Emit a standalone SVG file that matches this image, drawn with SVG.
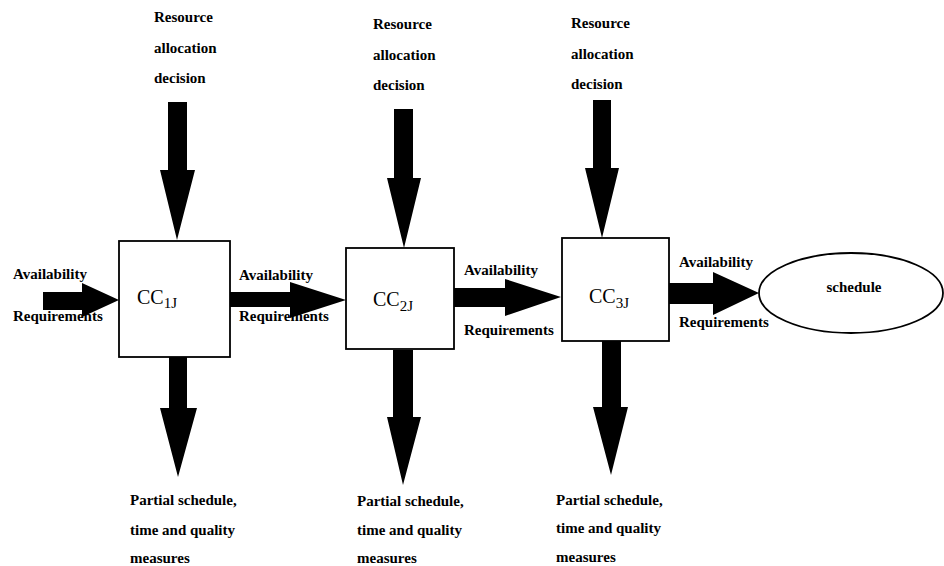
<svg xmlns="http://www.w3.org/2000/svg" width="944" height="566" viewBox="0 0 944 566">
<style>
.lbl{font-family:"Liberation Serif","Times New Roman",serif;font-weight:bold;font-size:15px;fill:#000}
.cc{font-family:"Liberation Serif","Times New Roman",serif;font-size:20px;fill:#000}
.sub{font-size:15px}
.box{fill:#fff;stroke:#000;stroke-width:1.8}
.arr{fill:#000}
</style>
<rect width="944" height="566" fill="#fff"/>
<g id="connectors">
  <!-- top arrows -->
  <polygon class="arr" points="168,102 187,102 187,170 195,170 177,240 160,170 168,170"/>
  <polygon class="arr" points="394,109 413,109 413,178 421,178 404,248 387,178 394,178"/>
  <polygon class="arr" points="593,100 611,100 611,168 619,168 602,238 585,168 593,168"/>
  <!-- bottom arrows -->
  <polygon class="arr" points="169,357 187,357 187,408 197,408 178,477 160,408 169,408"/>
  <polygon class="arr" points="393,350 413,350 413,417 421,417 403,485 387,417 393,417"/>
  <polygon class="arr" points="602,341 621,341 621,407 628,407 611,475 593,407 602,407"/>
  <!-- horizontal arrows -->
  <polygon class="arr" points="43,292 82,292 82,283 119,300 82,317 82,310 43,310"/>
  <polygon class="arr" points="230,292 290,292 290,282 346,300 290,318 290,307 230,307"/>
  <polygon class="arr" points="454,288 505,288 505,279 561,297 505,316 505,307 454,307"/>
  <polygon class="arr" points="669,283 713,283 713,272 759,293 713,315 713,304 669,304"/>
  <!-- labels -->
  <text class="lbl" x="154" y="22">Resource</text>
  <text class="lbl" x="154" y="53">allocation</text>
  <text class="lbl" x="154" y="83">decision</text>
  <text class="lbl" x="373" y="29">Resource</text>
  <text class="lbl" x="373" y="60">allocation</text>
  <text class="lbl" x="373" y="90">decision</text>
  <text class="lbl" x="571" y="28">Resource</text>
  <text class="lbl" x="571" y="59">allocation</text>
  <text class="lbl" x="571" y="89">decision</text>
  <text class="lbl" x="13" y="279">Availability</text>
  <text class="lbl" x="13" y="321">Requirements</text>
  <text class="lbl" x="239" y="280">Availability</text>
  <text class="lbl" x="239" y="321">Requirements</text>
  <text class="lbl" x="464" y="275">Availability</text>
  <text class="lbl" x="464" y="335">Requirements</text>
  <text class="lbl" x="679" y="267">Availability</text>
  <text class="lbl" x="679" y="327">Requirements</text>
  <text class="lbl" x="130" y="505">Partial schedule,</text>
  <text class="lbl" x="130" y="535">time and quality</text>
  <text class="lbl" x="130" y="563">measures</text>
  <text class="lbl" x="357" y="506">Partial schedule,</text>
  <text class="lbl" x="357" y="535">time and quality</text>
  <text class="lbl" x="357" y="563">measures</text>
  <text class="lbl" x="556" y="505">Partial schedule,</text>
  <text class="lbl" x="556" y="533">time and quality</text>
  <text class="lbl" x="556" y="562">measures</text>
</g>
<g id="cc1">
  <rect class="box" x="119" y="241" width="111" height="116"/>
  <text class="cc" x="137" y="304">CC<tspan class="sub" dy="4">1J</tspan></text>
</g>
<g id="cc2">
  <rect class="box" x="346" y="248" width="108" height="101"/>
  <text class="cc" x="373" y="306">CC<tspan class="sub" dy="5">2J</tspan></text>
</g>
<g id="cc3">
  <rect class="box" x="562" y="238" width="107" height="103"/>
  <text class="cc" x="589" y="303">CC<tspan class="sub" dy="5">3J</tspan></text>
</g>
<g id="schedule">
  <ellipse cx="851" cy="293" rx="92" ry="40" fill="#fff" stroke="#000" stroke-width="1.8"/>
  <text class="lbl" x="854" y="292" text-anchor="middle">schedule</text>
</g>
</svg>
